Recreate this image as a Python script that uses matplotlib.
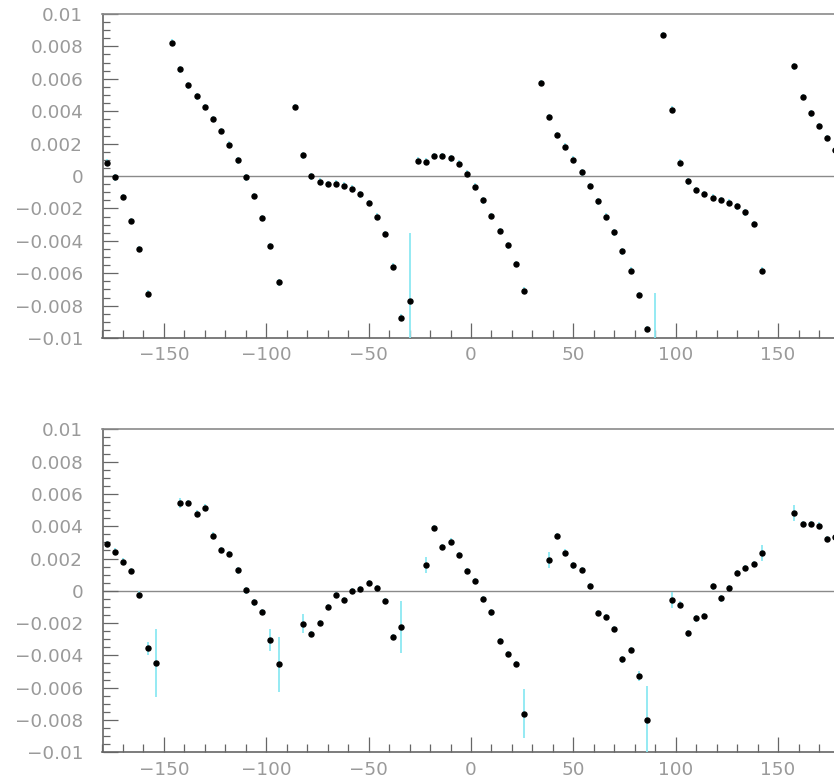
"""
Two-panel residual plot vs. phi (ROOT-like style).
"""

import numpy as np
import matplotlib
matplotlib.use("Agg")
import matplotlib.pyplot as plt
from matplotlib.ticker import MultipleLocator, FuncFormatter

nan = np.nan

# ── Bin centres (4 degree bins from -180 to 180) ─────────────
phi = np.arange(-178, 180, 4)

# ── Upper panel values / errors ──────────────────────────────
top_vals = [
    0.00083, -0.00008, -0.00130, -0.00278, -0.00452, -0.00726, nan, nan,
    0.00823, 0.00658, 0.00559, 0.00491, 0.00427, 0.00351, 0.00278, 0.00194,
    0.00097, -0.00008, -0.00124, -0.00260, -0.00433, -0.00656, nan, 0.00425,
    0.00128, -0.00002, -0.00035, -0.00049, -0.00047, -0.00060, -0.00078, -0.00113,
    -0.00167, -0.00250, -0.00357, -0.00559, -0.00874, -0.00769, 0.00095, 0.00089,
    0.00122, 0.00124, 0.00109, 0.00076, 0.00014, -0.00066, -0.00150, -0.00247,
    -0.00340, -0.00429, -0.00542, -0.00707, nan, 0.00573, 0.00365, 0.00254,
    0.00181, 0.00101, 0.00023, -0.00062, -0.00157, -0.00250, -0.00348, -0.00466,
    -0.00584, -0.00736, -0.00944, -0.01140, 0.00870, 0.00410, 0.00082, -0.00033,
    -0.00085, -0.00111, -0.00134, -0.00148, -0.00165, -0.00188, -0.00225, -0.00297,
    -0.00584, nan, nan, nan, 0.00676, 0.00487, 0.00386, 0.00309,
    0.00235, 0.00159,
]
top_errs = [
    0.0002, 0.0002, 0.0002, 0.0002, 0.0002, 0.0002, 0.0, 0.0,
    0.0002, 0.0002, 0.0002, 0.0002, 0.0002, 0.0002, 0.0002, 0.0002,
    0.0002, 0.0002, 0.0002, 0.0002, 0.0002, 0.0002, 0.0, 0.0002,
    0.0002, 0.0002, 0.0002, 0.0002, 0.0002, 0.0002, 0.0002, 0.0002,
    0.0002, 0.0002, 0.0002, 0.0002, 0.0002, 0.0042, 0.0002, 0.0002,
    0.0002, 0.0002, 0.0002, 0.0002, 0.0002, 0.0002, 0.0002, 0.0002,
    0.0002, 0.0002, 0.0002, 0.0002, 0.0, 0.0002, 0.0002, 0.0002,
    0.0002, 0.0002, 0.0002, 0.0002, 0.0002, 0.0002, 0.0002, 0.0002,
    0.0002, 0.0002, 0.0002, 0.0042, 0.0002, 0.0002, 0.0002, 0.0002,
    0.0002, 0.0002, 0.0002, 0.0002, 0.0002, 0.0002, 0.0002, 0.0002,
    0.0002, 0.0, 0.0, 0.0, 0.0002, 0.0002, 0.0002, 0.0002,
    0.0002, 0.0002,
]

# ── Lower panel values / errors ──────────────────────────────
bot_vals = [
    0.00289, 0.00243, 0.00181, 0.00122, -0.00023, -0.00355, -0.00447, nan,
    nan, 0.00542, 0.00542, 0.00478, 0.00515, 0.00342, 0.00254, 0.00227,
    0.00126, 0.00002, -0.00072, -0.00130, -0.00305, -0.00454, nan, nan,
    -0.00204, -0.00268, -0.00200, -0.00101, -0.00025, -0.00058, -0.00002, 0.00012,
    0.00049, 0.00019, -0.00062, -0.00287, -0.00225, nan, nan, 0.00161,
    0.00388, 0.00272, 0.00305, 0.00223, 0.00122, 0.00062, -0.00052, -0.00134,
    -0.00311, -0.00390, -0.00454, -0.00761, nan, nan, 0.00190, 0.00338,
    0.00237, 0.00157, 0.00128, 0.00029, -0.00136, -0.00163, -0.00235, -0.00425,
    -0.00367, -0.00526, -0.00802, nan, nan, -0.00058, -0.00085, -0.00264,
    -0.00171, -0.00157, 0.00027, -0.00047, 0.00019, 0.00111, 0.00140, 0.00167,
    0.00235, nan, nan, nan, 0.00480, 0.00414, 0.00414, 0.00404,
    0.00322, 0.00336,
]
bot_errs = [
    0.0002, 0.0002, 0.0002, 0.0002, 0.0002, 0.0004, 0.0021, 0.0,
    0.0, 0.0003, 0.0002, 0.0002, 0.0002, 0.0002, 0.0002, 0.0002,
    0.0002, 0.0002, 0.0002, 0.0002, 0.0007, 0.0017, 0.0, 0.0,
    0.0006, 0.0002, 0.0002, 0.0002, 0.0002, 0.0002, 0.0002, 0.0002,
    0.0002, 0.0002, 0.0002, 0.0002, 0.0016, 0.0, 0.0, 0.0005,
    0.0002, 0.0002, 0.0002, 0.0002, 0.0002, 0.0002, 0.0002, 0.0002,
    0.0002, 0.0002, 0.0002, 0.0015, 0.0, 0.0, 0.0005, 0.0002,
    0.0002, 0.0002, 0.0002, 0.0002, 0.0002, 0.0002, 0.0002, 0.0002,
    0.0002, 0.0003, 0.0021, 0.0, 0.0, 0.0005, 0.0002, 0.0002,
    0.0002, 0.0002, 0.0002, 0.0002, 0.0002, 0.0002, 0.0002, 0.0002,
    0.0005, 0.0, 0.0, 0.0, 0.0005, 0.0002, 0.0002, 0.0002,
    0.0002, 0.0002,
]

# ── Style ────────────────────────────────────────────────────
LABEL_C = '#9a9a9a'
AXIS_C = '#666666'
ERR_C = '#8ce8f2'
W, H = 834, 780


def fmt_tick(v, _pos):
    v = round(v, 6)
    if abs(v) < 1e-9:
        return "0"
    return f"{v:g}".replace("-", "\u2212")


def draw_panel(ax, vals, errs):
    ax.set_xlim(-180, 180)
    ax.set_ylim(-0.01, 0.01)
    ax.axhline(0, color='#8a8a8a', linewidth=1.0, zorder=1)
    ax.errorbar(phi, vals, yerr=errs, fmt='o', color='black',
                markersize=3.6, ecolor=ERR_C, elinewidth=1.3,
                capsize=0, zorder=3)

    ax.xaxis.set_major_locator(MultipleLocator(50))
    ax.xaxis.set_minor_locator(MultipleLocator(10))
    ax.yaxis.set_major_locator(MultipleLocator(0.002))
    ax.yaxis.set_minor_locator(MultipleLocator(0.0005))
    ax.xaxis.set_major_formatter(FuncFormatter(fmt_tick))
    ax.yaxis.set_major_formatter(FuncFormatter(fmt_tick))

    ax.tick_params(which='both', direction='in', top=False, right=False,
                   color=AXIS_C, labelcolor=LABEL_C, labelsize=13.2, width=0.9)
    ax.tick_params(axis='x', which='major', length=10.8, pad=6)
    ax.tick_params(axis='x', which='minor', length=5.8)
    ax.tick_params(axis='y', which='major', length=10.8, pad=14)
    ax.tick_params(axis='y', which='minor', length=5.2)

    for s in ax.spines.values():
        s.set_edgecolor(AXIS_C)
        s.set_linewidth(1.2)
    ax.spines['top'].set_edgecolor('#8a8a8a')


fig = plt.figure(figsize=(W / 100, H / 100), dpi=100, facecolor='white')

left = 102.5 / W
width = 737 / W
ax_top = fig.add_axes([left, 1 - 338 / H, width, 324 / H])
ax_bot = fig.add_axes([left, 1 - 752.3 / H, width, 323 / H])

draw_panel(ax_top, top_vals, top_errs)
draw_panel(ax_bot, bot_vals, bot_errs)

fig.savefig("out.png", dpi=100, facecolor='white')
